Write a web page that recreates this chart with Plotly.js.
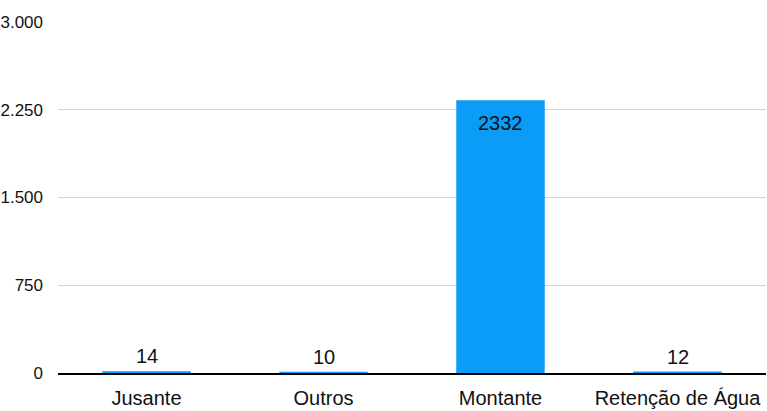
<!DOCTYPE html>
<html>
<head>
<meta charset="utf-8">
<script src="https://cdn.plot.ly/plotly-3.0.1.min.js"></script>
<style>
  html, body { margin: 0; padding: 0; background: #fff; }
  #chart { width: 767px; height: 411px; }
</style>
</head>
<body>
<div id="chart"></div>
<script>
let categories = ['Jusante', 'Outros', 'Montante', 'Retenção de Água'];
let counts = [14, 10, 2332, 12];
let tickVals = [0, 750, 1500, 2250, 3000];
let tickText = ['0', '750', '1.500', '2.250', '3.000'];

let barColor = '#0b9cf8';
let fontFam = 'Liberation Sans, Arial, sans-serif';

let bars = {
    x: categories,
    y: counts,
    type: 'bar',
    marker: { color: barColor },
    cliponaxis: false,
    hoverinfo: 'skip'
};

// value labels: above short bars, inside near the top of tall ones
let labels = categories.map(function (c, i) {
    let inside = counts[i] > 300;
    return {
        x: c,
        y: counts[i],
        text: String(counts[i]),
        showarrow: false,
        yanchor: inside ? 'top' : 'bottom',
        yshift: inside ? -10 : 2,
        font: { size: 20, color: '#111', family: fontFam }
    };
});

let layout = {
    width: 767,
    height: 411,
    margin: { l: 58, r: 1, t: 22, b: 38 },
    paper_bgcolor: '#fff',
    plot_bgcolor: '#fff',
    font: { family: fontFam, size: 17, color: '#111' },
    showlegend: false,
    bargap: 0.5,
    annotations: labels,
    xaxis: {
        showline: true,
        linecolor: '#000',
        linewidth: 2,
        ticks: '',
        showgrid: false,
        ticklabelstandoff: 6,
        tickfont: { size: 20, color: '#111' }
    },
    yaxis: {
        range: [0, 3000],
        tickvals: tickVals,
        ticktext: tickText,
        showgrid: true,
        gridcolor: '#d6d6d6',
        gridwidth: 1,
        zeroline: false,
        ticks: '',
        ticklabelstandoff: 14,
        tickfont: { size: 17, color: '#111' }
    }
};

Plotly.newPlot('chart', [bars], layout, { displayModeBar: false, staticPlot: true });
</script>
</body>
</html>
